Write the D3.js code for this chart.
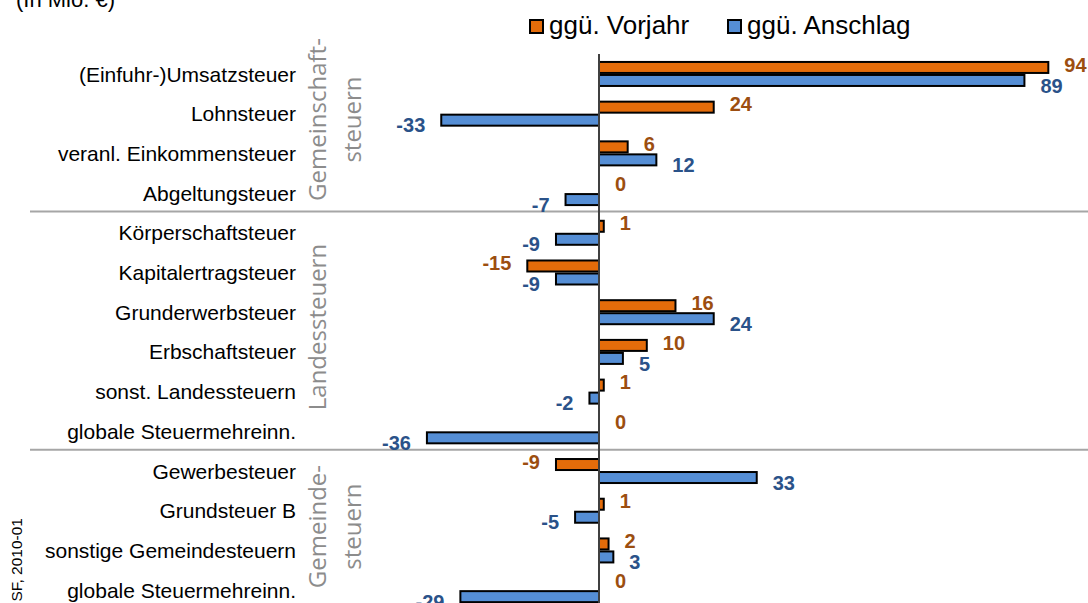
<!DOCTYPE html>
<html>
<head>
<meta charset="utf-8">
<script src="https://cdn.jsdelivr.net/npm/d3@7"></script>
<style>
  html, body { margin: 0; padding: 0; background: #fff; }
  svg { display: block; }
</style>
</head>
<body>
<div id="chart"></div>
<script>
// values in Mio. €
const categories = [
    "(Einfuhr-)Umsatzsteuer", "Lohnsteuer", "veranl. Einkommensteuer", "Abgeltungsteuer",
    "Körperschaftsteuer", "Kapitalertragsteuer", "Grunderwerbsteuer", "Erbschaftsteuer",
    "sonst. Landessteuern", "globale Steuermehreinn.",
    "Gewerbesteuer", "Grundsteuer B", "sonstige Gemeindesteuern", "globale Steuermehreinn."
];
const vorjahr = [94, 24, 6, 0, 1, -15, 16, 10, 1, 0, -9, 1, 2, 0];
const anschlag = [89, -33, 12, -7, -9, -9, 24, 5, -2, -36, 33, -5, 3, -29];
const seriesNames = ["ggü. Vorjahr", "ggü. Anschlag"];
const groupNames = [["Gemeinschaft-", "steuern"], ["Landessteuern"], ["Gemeinde-", "steuern"]];
const groupSizes = [4, 6, 4];

const W = 1088, H = 603;
const fills = ["#E46C0A", "#558ED5"];
const labelColors = ["#9C4E10", "#2A5289"];

const svg = d3.select("#chart").append("svg")
    .attr("width", W)
    .attr("height", H);

const idx = d3.range(categories.length);

// row scale
const y = d3.scaleBand()
    .domain(idx)
    .range([54.2, 609.9])
    .paddingInner(0.345)
    .paddingOuter(0.17);

const ySub = d3.scaleBand()
    .domain([0, 1])
    .range([0, y.bandwidth()]);

const x = d3.scaleLinear()
    .domain([-40, 100])
    .range([407.8, 1077]);

const rowCenter = i => y(i) + y.bandwidth() / 2;

// title (cut at top)
svg.append("text")
    .attr("x", 16)
    .attr("y", 7)
    .attr("font-family", "Liberation Sans, Arial, sans-serif")
    .attr("font-size", "22px")
    .text("(In Mio. €)");

// source, rotated (cut at bottom)
svg.append("text")
    .attr("transform", "translate(22,518) rotate(-90)")
    .attr("text-anchor", "end")
    .attr("font-family", "Liberation Sans, Arial, sans-serif")
    .attr("font-size", "15.5px")
    .text("SF, 2010-01");

// legend
const legendX = [530, 728];
seriesNames.forEach((name, i) => {
    svg.append("rect")
        .attr("x", legendX[i])
        .attr("y", 20)
        .attr("width", 13)
        .attr("height", 13)
        .attr("fill", fills[i])
        .attr("stroke", "#000")
        .attr("stroke-width", 2);
    svg.append("text")
        .attr("x", legendX[i] + 19)
        .attr("y", 34)
        .attr("font-family", "Liberation Sans, Arial, sans-serif")
        .attr("font-size", "26px")
        .text(name);
});

// group separator lines
let acc = 0;
const groupRanges = groupSizes.map(n => { const r = [acc, acc + n - 1]; acc += n; return r; });
groupRanges.slice(0, -1).forEach(r => {
    const yy = (rowCenter(r[1]) + rowCenter(r[1] + 1)) / 2 - 1.5;
    svg.append("line")
        .attr("x1", 30).attr("x2", W)
        .attr("y1", yy).attr("y2", yy)
        .attr("stroke", "#A6A6A6")
        .attr("stroke-width", 2);
});

// group labels
groupRanges.forEach((r, gi) => {
    const cy = (rowCenter(r[0]) + rowCenter(r[1])) / 2 - (gi === 0 ? 14 : (gi === 1 ? 5 : 4));
    groupNames[gi].forEach((line, li) => {
        svg.append("text")
            .attr("transform", `translate(${326 + li * 35},${cy}) rotate(-90)`)
            .attr("text-anchor", "middle")
            .attr("font-family", "Open Sans, sans-serif")
            .attr("font-size", "24px")
            .attr("fill", "#8C8C8C")
            .text(line);
    });
});

// category labels
svg.append("g")
    .selectAll("text")
    .data(idx)
    .join("text")
    .attr("x", 296)
    .attr("y", d => rowCenter(d))
    .attr("dy", "0.36em")
    .attr("text-anchor", "end")
    .attr("font-family", "Liberation Sans, Arial, sans-serif")
    .attr("font-size", "21px")
    .attr("fill", "#000")
    .text(d => categories[d]);

// bars
const rows = idx.map(i => [vorjahr[i], anschlag[i]]);
const rowG = svg.append("g")
    .selectAll("g")
    .data(rows)
    .join("g")
    .attr("transform", (d, i) => `translate(0,${y(i)})`);

rowG.selectAll("rect")
    .data(d => d.map((v, k) => ({ k: k, v: v })))
    .join("rect")
    .attr("x", d => Math.min(x(0), x(d.v)))
    .attr("y", d => ySub(d.k) + 1)
    .attr("width", d => Math.abs(x(d.v) - x(0)))
    .attr("height", ySub.bandwidth() - 2)
    .attr("fill", d => fills[d.k])
    .attr("stroke", "#000")
    .attr("stroke-width", 2);

// value labels
const labelShift = [-3, 5];
rowG.selectAll("text")
    .data(d => d.map((v, k) => ({ k: k, v: v })))
    .join("text")
    .attr("x", d => d.v < 0 ? x(d.v) - 16 : x(d.v) + 16)
    .attr("y", d => ySub(d.k) + ySub.bandwidth() / 2 + labelShift[d.k])
    .attr("dy", "0.36em")
    .attr("text-anchor", d => d.v < 0 ? "end" : "start")
    .attr("font-family", "Liberation Sans, Arial, sans-serif")
    .attr("font-size", "20px")
    .attr("font-weight", "bold")
    .attr("fill", d => labelColors[d.k])
    .text(d => d3.format("d")(d.v).replace("−", "-"));

// zero axis
svg.append("line")
    .attr("x1", x(0)).attr("x2", x(0))
    .attr("y1", 54).attr("y2", H)
    .attr("stroke", "#404040")
    .attr("stroke-width", 2);
</script>
</body>
</html>
